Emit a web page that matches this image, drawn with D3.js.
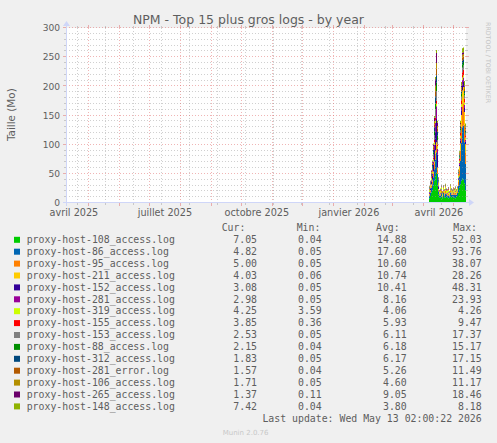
<!DOCTYPE html>
<html><head><meta charset="utf-8">
<script src="https://cdn.jsdelivr.net/npm/d3@7"></script>
<style>body{margin:0;background:#f0f0f0}svg{display:block}</style>
</head><body>
<svg id="c" width="497" height="443"></svg>
<script>
const title = "NPM - Top 15 plus gros logs - by year";
const yLabel = "Taille (Mo)";
const watermark = "RRDTOOL / TOBI OETIKER";
const footer = "Munin 2.0.76";
const lastUpdate = "Last update: Wed May 13 02:00:22 2026";

const seriesNames = ["proxy-host-108_access.log","proxy-host-86_access.log","proxy-host-95_access.log",
  "proxy-host-211_access.log","proxy-host-152_access.log","proxy-host-281_access.log","proxy-host-319_access.log",
  "proxy-host-155_access.log","proxy-host-153_access.log","proxy-host-88_access.log","proxy-host-312_access.log",
  "proxy-host-281_error.log","proxy-host-106_access.log","proxy-host-265_access.log","proxy-host-148_access.log"];
const seriesColors = ["#00CC00","#0066B3","#FF8000","#FFCC00","#330099","#990099","#CCFF00",
  "#FF0000","#808080","#008F00","#00487D","#B35A00","#B38F00","#6B006B","#8FB300"];

const curVals = ["7.05","4.82","5.00","4.03","3.08","2.98","4.25","3.85","2.53","2.15","1.83","1.57","1.71","1.37","7.42"];
const minVals = ["0.04","0.05","0.05","0.06","0.05","0.05","3.59","0.36","0.05","0.04","0.05","0.04","0.05","0.11","0.04"];
const avgVals = ["14.88","17.60","10.60","10.74","10.41","8.16","4.06","5.93","6.11","6.18","6.17","5.26","4.60","9.05","3.80"];
const maxVals = ["52.03","93.76","38.07","28.26","48.31","23.93","4.26","9.47","17.37","15.17","17.15","11.49","11.17","18.46","8.18"];

const dayDates = ["2026-04-06","2026-04-07","2026-04-08","2026-04-09","2026-04-10","2026-04-11","2026-04-12",
  "2026-04-13","2026-04-14","2026-04-15","2026-04-16","2026-04-17","2026-04-18","2026-04-19","2026-04-20",
  "2026-04-21","2026-04-22","2026-04-23","2026-04-24","2026-04-25","2026-04-26","2026-04-27","2026-04-28",
  "2026-04-29","2026-04-30","2026-05-01","2026-05-02","2026-05-03","2026-05-04","2026-05-05","2026-05-06",
  "2026-05-07","2026-05-08","2026-05-09","2026-05-10","2026-05-11","2026-05-12"];

const s108 = [8,12,18,22,30,38,46,52,30,14, 10,9,11,8,12,10,9,11,10,8,9,12,10,11,9,10,8,11,12, 18,26,32,38,42,40,34,22];
const s86  = [5,6,8,10,14,20,28,35,20,6, 3,4,6,2,5,3,7,4,3,5,2,6,4,3,5,4,6,3,5, 12,20,40,65,88,93,70,45];
const s95  = [2,3,4,5,7,9,11,12,8,3, 1,2,4,1,3,2,5,1,2,3,1,4,2,1,3,2,4,1,2, 6,10,18,28,36,38,30,20];
const s211 = [1,1,2,2,3,4,5,5,3,1, 0.5,1,1.5,0.5,1,0.8,2,0.6,1,1.2,0.5,1.5,0.8,0.6,1,0.8,1.4,0.5,1, 4,7,12,20,27,28,22,14];
const s152 = [2,3,5,8,12,20,32,40,22,4, 0.5,0.4,0.8,0.3,0.6,0.5,0.9,0.4,0.5,0.7,0.3,0.8,0.5,0.4,0.6,0.5,0.7,0.3,0.6, 2,3,5,8,10,9,7,4];
const s281 = [1,1.5,2,3,5,9,15,22,10,2, 0.4,0.6,0.3,0.5,0.8,0.4,0.6,0.3,0.5,0.7,0.4,0.6,0.5,0.3,0.6,0.4,0.7,0.5,0.4, 1.5,2.5,4,6,8,7,5,3];
const s319 = [4.1,4.0,4.1,4.2,4.1,4.0,4.2,4.2,4.1,4.0, 4.0,4.1,3.9,4.0,4.1,4.0,3.8,4.0,4.1,4.0,3.9,4.0,4.1,3.6,4.0,4.1,4.0,3.9,4.1, 4.0,4.1,4.2,4.1,4.0,4.2,4.1,4.25];
const s155 = [1,1,1.5,2,3,4,5,5,3,1, 0.8,1.2,0.6,1.0,1.4,0.7,1.1,0.9,0.5,1.3,0.8,1.0,0.6,1.2,0.9,0.7,1.1,0.8,1.0, 2,3,5,7,9,9.4,7,4];
const s153 = [1,1.5,2,3,5,8,14,17,8,2, 0.5,0.3,0.7,0.4,0.6,0.5,0.8,0.3,0.5,0.6,0.4,0.7,0.5,0.3,0.6,0.4,0.5,0.6,0.4, 1.5,2.5,4,6,8,7,5,3];
const s88  = [1,1,2,3,4,7,11,14,7,1.5, 0.4,0.5,0.3,0.6,0.4,0.5,0.7,0.3,0.4,0.5,0.6,0.3,0.4,0.5,0.3,0.6,0.4,0.5,0.4, 1.2,2,3,5,6,6,4,2.5];
const s312 = [0.8,1,2,3,4,7,12,13,7,1.5, 0.3,0.5,0.4,0.6,0.3,0.4,0.5,0.7,0.3,0.4,0.5,0.3,0.6,0.4,0.5,0.3,0.4,0.6,0.4, 1,2,3,4,6,5,4,2];
const s281e = [0.6,0.8,1.5,2,3,5,9,11,5,1, 0.3,0.4,0.2,0.5,0.3,0.4,0.6,0.3,0.2,0.4,0.5,0.3,0.4,0.2,0.3,0.5,0.3,0.4,0.3, 1,1.5,2.5,4,5,4.5,3.5,1.8];
const s106 = [0.6,0.8,1.5,2,3,5,8,10,5,1, 0.2,0.4,0.3,0.5,0.3,0.2,0.4,0.6,0.3,0.4,0.2,0.5,0.3,0.4,0.3,0.2,0.4,0.3,0.5, 1,1.5,2.5,3.5,5,4.5,3.5,1.9];
const s265 = [0.5,0.8,1.5,2,3,6,12,17,6,1, 0.3,0.2,0.4,0.3,0.5,0.3,0.2,0.4,0.3,0.6,0.2,0.3,0.4,0.3,0.2,0.5,0.3,0.4,0.3, 0.8,1.2,2,3,3.5,3,2.5,1.5];
const s148 = [0.5,0.8,1,1.5,2,3,4,5,3,1, 0.2,0.3,0.1,0.2,0.4,0.2,0.3,0.2,0.1,0.3,0.2,0.4,0.2,0.3,0.1,0.2,0.3,0.2,0.3, 1.5,2.5,4,6,8,8,7.5,7.4];

const seriesValues = [s108,s86,s95,s211,s152,s281,s319,s155,s153,s88,s312,s281e,s106,s265,s148];

const yTicks = [0,50,100,150,200,250,300];
const xTickLabels = ["avril 2025","juillet 2025","octobre 2025","janvier 2026","avril 2026"];
const xTickMonths = ["2025-04-01","2025-07-01","2025-10-01","2026-01-01","2026-04-01"];

// ---------- layout ----------
const svg = d3.select("#c");
const W = 497, H = 443;
const L = 66, R = 466, T = 28, B = 203;
const startT = new Date(Date.UTC(2025,3,8,2,0,22));
const endT = new Date(Date.UTC(2026,4,13,2,0,22));
const x = d3.scaleUtc().domain([startT, endT]).range([L, R]);
const y = d3.scaleLinear().domain([0,300]).range([B, T]);
const parse = d3.utcParse("%Y-%m-%d");
const dayOff = (2*3600+22)*1000;

const FONT = "DejaVu Sans, sans-serif";
const MONO = "DejaVu Sans Mono, monospace";
const TXT = "#5e5e5e";

svg.append("rect").attr("width",W).attr("height",H).attr("fill","#f0f0f0");
svg.append("rect").attr("x",L).attr("y",T).attr("width",R-L).attr("height",B-T).attr("fill","#ffffff");

// data rows
const rows = dayDates.map((d,i) => {
  const r = {date: new Date(+parse(d) + dayOff)};
  seriesNames.forEach((n,k) => r[n] = seriesValues[k][i]);
  return r;
});
const lastRow = Object.assign({}, rows[rows.length-1], {date: endT});
rows.push(lastRow);

const stack = d3.stack().keys(seriesNames);
const layers = stack(rows);
const area = d3.area().curve(d3.curveStepAfter)
  .x(d => x(d.data.date)).y0(d => y(d[0])).y1(d => y(d[1]));

svg.append("g").selectAll("path").data(layers).join("path")
  .attr("d", area).attr("fill", (d,i) => seriesColors[i]);

// ---------- grid ----------
const gGrid = svg.append("g");
const GRID = "rgba(150,150,150,0.45)";
const MGRID = "rgba(222,90,90,0.45)";
// minor horizontal every 10
const minorY = d3.range(10, 300, 10).filter(v => v % 50 !== 0);
minorY.forEach(v => {
  const yy = Math.round(y(v)) - 0.5;
  gGrid.append("line").attr("x1",L).attr("x2",R).attr("y1",yy).attr("y2",yy)
    .attr("stroke",GRID).attr("stroke-dasharray","1,2");
  gGrid.append("line").attr("x1",L-2).attr("x2",L).attr("y1",yy).attr("y2",yy).attr("stroke",GRID);
  gGrid.append("line").attr("x1",R).attr("x2",R+2).attr("y1",yy).attr("y2",yy).attr("stroke",GRID);
});
// minor vertical every 4 weeks
const anchor = new Date(Date.UTC(2025,3,20));
const weeks = d3.utcSunday.range(startT, endT)
  .filter(d => Math.round((d - anchor) / (7*864e5)) % 4 === 0);
weeks.forEach(d => {
  const xx = Math.floor(x(d)) + 0.5;
  gGrid.append("line").attr("x1",xx).attr("x2",xx).attr("y1",T).attr("y2",B)
    .attr("stroke",GRID).attr("stroke-dasharray","1,2");
  gGrid.append("line").attr("x1",xx).attr("x2",xx).attr("y1",B).attr("y2",B+2).attr("stroke",GRID);
  gGrid.append("line").attr("x1",xx).attr("x2",xx).attr("y1",T-2).attr("y2",T).attr("stroke",GRID);
});
// major horizontal
yTicks.forEach(v => {
  const yy = Math.round(y(v)) - 0.5;
  gGrid.append("line").attr("x1",L).attr("x2",R).attr("y1",yy).attr("y2",yy)
    .attr("stroke",MGRID).attr("stroke-dasharray","1,2");
  gGrid.append("line").attr("x1",L-3).attr("x2",L).attr("y1",yy).attr("y2",yy).attr("stroke",MGRID);
  gGrid.append("line").attr("x1",R).attr("x2",R+3).attr("y1",yy).attr("y2",yy).attr("stroke",MGRID);
});
// major vertical: month starts
d3.utcMonth.range(startT, endT).forEach(d => {
  const xx = Math.floor(x(d)) + 0.5;
  gGrid.append("line").attr("x1",xx).attr("x2",xx).attr("y1",T).attr("y2",B)
    .attr("stroke",MGRID).attr("stroke-dasharray","1,2");
  gGrid.append("line").attr("x1",xx).attr("x2",xx).attr("y1",B).attr("y2",B+3).attr("stroke",MGRID);
  gGrid.append("line").attr("x1",xx).attr("x2",xx).attr("y1",T-3).attr("y2",T).attr("stroke",MGRID);
});

// ---------- axes ----------
const AX = "#CFD6F8";
svg.append("line").attr("x1",L-3).attr("x2",R+4).attr("y1",B-0.5).attr("y2",B-0.5).attr("stroke",AX);
svg.append("line").attr("x1",L+0.5).attr("x2",L+0.5).attr("y1",B+3).attr("y2",T-4).attr("stroke",AX);
svg.append("path").attr("d",`M${R+3},${B-4}L${R+8},${B-0.5}L${R+3},${B+3}Z`).attr("fill",AX);
svg.append("path").attr("d",`M${L-3},${T-2}L${L+0.5},${T-7}L${L+4},${T-2}Z`).attr("fill",AX);

// y tick labels
svg.append("g").selectAll("text").data(yTicks).join("text")
  .attr("x", L-6).attr("y", d => y(d) + 3.2)
  .attr("text-anchor","end").attr("font-family",FONT).attr("font-size","9.1px").attr("fill",TXT)
  .text(d => d);

// x labels centered mid-month
svg.append("g").selectAll("text").data(xTickMonths).join("text")
  .attr("x", d => x(d3.utcDay.offset(parse(d), 15)))
  .attr("y", 216)
  .attr("text-anchor","middle").attr("font-family",FONT).attr("font-size","9.7px").attr("fill",TXT)
  .text((d,i) => xTickLabels[i]);

// title
svg.append("text").attr("x", 248.5).attr("y", 24).attr("text-anchor","middle")
  .attr("font-family",FONT).attr("font-size","12.5px").attr("fill",TXT).text(title);

// y label
svg.append("text").attr("transform","translate(14.5,114.7) rotate(-90)").attr("text-anchor","middle")
  .attr("font-family",FONT).attr("font-size","10.4px").attr("fill",TXT).text(yLabel);

// watermark right
svg.append("text").attr("transform","translate(485.5,22) rotate(90)").attr("text-anchor","start")
  .attr("font-family",FONT).attr("font-size","6.3px").attr("fill","#c4c4c4").text(watermark);

// ---------- legend ----------
const LF = "9.85px";
const hdrY = 231;
[["Cur:",221.7],["Min:",296.7],["Avg:",376],["Max:",453.3]].forEach(([t,xx]) => {
  svg.append("text").attr("x",xx).attr("y",hdrY).attr("font-family",MONO).attr("font-size",LF)
    .attr("fill",TXT).text(t);
});
const colEnds = [257, 321.7, 406.7, 481.7];
const lg = svg.append("g");
seriesNames.forEach((n,i) => {
  const by = 243 + i*11.9;
  lg.append("rect").attr("x",14).attr("y",by-6.2).attr("width",6).attr("height",6).attr("fill",seriesColors[i]);
  lg.append("text").attr("x",26.7).attr("y",by).attr("font-family",MONO).attr("font-size",LF).attr("fill",TXT).text(n);
  [curVals[i],minVals[i],avgVals[i],maxVals[i]].forEach((v,c) => {
    lg.append("text").attr("x",colEnds[c]).attr("y",by).attr("text-anchor","end")
      .attr("font-family",MONO).attr("font-size",LF).attr("fill",TXT).text(v);
  });
});
svg.append("text").attr("x",481.7).attr("y",422).attr("text-anchor","end")
  .attr("font-family",MONO).attr("font-size",LF).attr("fill",TXT).text(lastUpdate);
svg.append("text").attr("x",222.7).attr("y",435).attr("font-family",FONT).attr("font-size","7px")
  .attr("fill","#c8c8c8").text(footer);
</script>
</body></html>
